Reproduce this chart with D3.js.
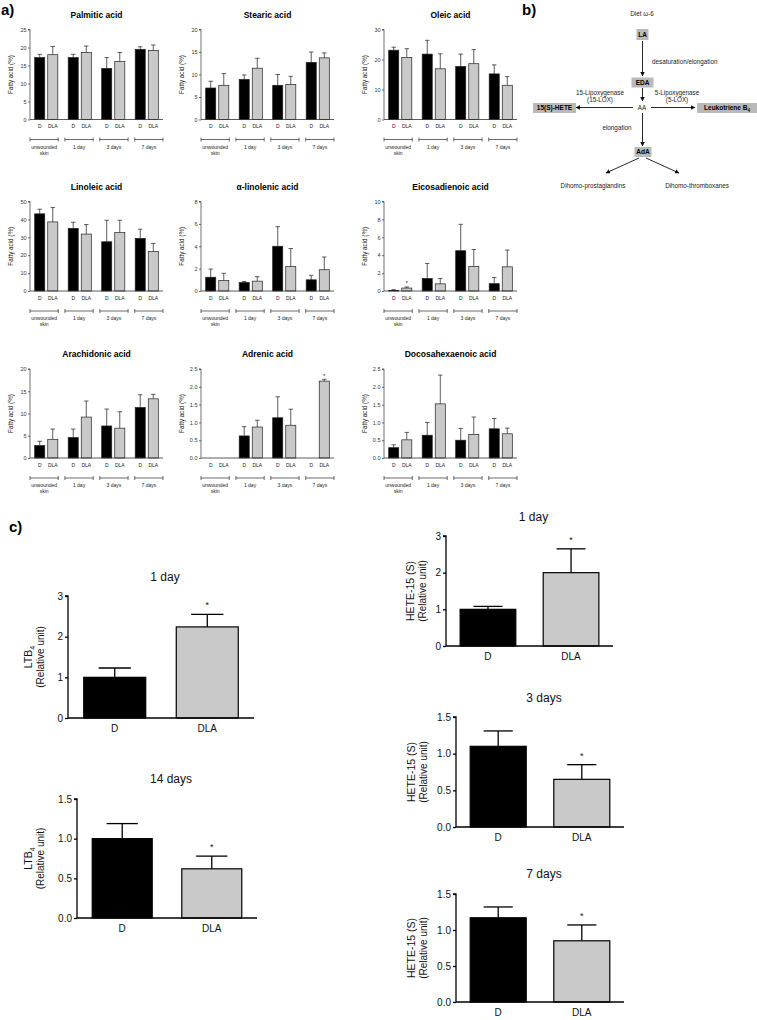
<!DOCTYPE html>
<html><head><meta charset="utf-8">
<script src="https://cdn.jsdelivr.net/npm/d3@7"></script>
<style>
body{margin:0;background:#fff}
svg{display:block}
text{font-family:"Liberation Sans",Arial,Helvetica,sans-serif}
</style>
</head><body>
<svg id="fig" width="757" height="1020"></svg>
<script>
// ---------------- DATA ----------------
const timeGroups = ["unwounded skin", "1 day", "3 days", "7 days"];
const diets = ["D", "DLA"];
const acidNames = ["Palmitic acid", "Stearic acid", "Oleic acid", "Linoleic acid", "α-linolenic acid",
  "Eicosadienoic acid", "Arachidonic acid", "Adrenic acid", "Docosahexaenoic acid"];
const acidYMax = [25, 20, 30, 50, 8, 10, 20, 2.5, 2.5];
const acidYStep = [5, 5, 10, 10, 2, 2, 5, 0.5, 0.5];

// mean values: [D per group], [DLA per group]; upper = top of error bar
const palmiticMean = [[17.2, 17.2, 14.2, 19.5], [18.0, 18.6, 16.1, 19.2]];
const palmiticUpper = [[18.1, 18.1, 17.2, 20.2], [20.3, 20.4, 18.6, 20.7]];
const stearicMean = [[7.0, 8.9, 7.6, 12.7], [7.6, 11.4, 7.8, 13.7]];
const stearicUpper = [[8.5, 9.9, 10.0, 15.0], [10.2, 13.6, 9.6, 14.8]];
const oleicMean = [[23.1, 21.8, 17.7, 15.2], [20.7, 16.9, 18.6, 11.4]];
const oleicUpper = [[24.1, 26.4, 21.8, 18.2], [23.6, 21.9, 23.3, 14.3]];
const linoleicMean = [[43.1, 35.0, 27.5, 29.4], [38.6, 31.8, 32.6, 22.1]];
const linoleicUpper = [[45.7, 38.4, 39.5, 34.5], [46.6, 37.1, 39.5, 26.6]];
const linolenicMean = [[1.23, 0.76, 4.0, 1.0], [0.93, 0.88, 2.19, 1.9]];
const linolenicUpper = [[1.96, 0.85, 5.75, 1.4], [1.58, 1.28, 3.8, 3.04]];
const eicosadienoicMean = [[0.07, 1.4, 4.5, 0.82], [0.33, 0.8, 2.73, 2.7]];
const eicosadienoicUpper = [[0.15, 3.07, 7.45, 1.5], [0.45, 1.4, 4.64, 4.57]];
const arachidonicMean = [[2.8, 4.6, 7.2, 11.35], [4.2, 9.2, 6.7, 13.3]];
const arachidonicUpper = [[3.76, 6.5, 11.0, 14.2], [6.5, 12.8, 10.4, 14.3]];
const adrenicMean = [[0, 0.62, 1.13, 0], [0, 0.87, 0.92, 2.16]];
const adrenicUpper = [[0, 0.88, 1.72, 0], [0, 1.06, 1.37, 2.21]];
const dhaMean = [[0.29, 0.64, 0.5, 0.82], [0.51, 1.52, 0.66, 0.68]];
const dhaUpper = [[0.37, 1.0, 0.83, 1.11], [0.72, 2.33, 1.15, 0.84]];
// significance stars: [acid index, diet index, group index]
const acidStars = [[5, 1, 0], [7, 1, 3]];

// panel c
const ltb4Titles = ["1 day", "14 days"];
const ltb4Mean = [[1.0, 2.24], [1.0, 0.62]];
const ltb4Upper = [[1.23, 2.55], [1.19, 0.78]];
const ltb4YMax = [3, 1.5];
const ltb4YStep = [1, 0.5];
const heteTitles = ["1 day", "3 days", "7 days"];
const heteMean = [[1.0, 2.0], [1.1, 0.65], [1.17, 0.85]];
const heteUpper = [[1.08, 2.65], [1.31, 0.85], [1.32, 1.07]];
const heteYMax = [3, 1.5, 1.5];
const heteYStep = [1, 0.5, 0.5];
const starredDiet = "DLA";

// ---------------- DRAWING ----------------
const svg = d3.select("#fig");
const BLACK = "#000", GRAY = "#c9c9c9";

const acidMeans = [palmiticMean, stearicMean, oleicMean, linoleicMean, linolenicMean,
  eicosadienoicMean, arachidonicMean, adrenicMean, dhaMean];
const acidUppers = [palmiticUpper, stearicUpper, oleicUpper, linoleicUpper, linolenicUpper,
  eicosadienoicUpper, arachidonicUpper, adrenicUpper, dhaUpper];

// panel labels
svg.append("text").attr("x", 1).attr("y", 15).attr("font-size", 15).attr("font-weight", "bold").text("a)");
svg.append("text").attr("x", 522).attr("y", 15).attr("font-size", 15).attr("font-weight", "bold").text("b)");
svg.append("text").attr("x", 9).attr("y", 532).attr("font-size", 15).attr("font-weight", "bold").text("c)");

const colX = [30, 201, 384];
const rowTop = [29.5, 201.5, 369];
const rowH = [90, 89.5, 89];
const smallW = 133;

function smallChart(i) {
  const col = i % 3, row = Math.floor(i / 3);
  const x0 = colX[col], yTop = rowTop[row], h = rowH[row];
  const yBase = yTop + h;
  const mean = acidMeans[i], upper = acidUppers[i];
  const g = svg.append("g");
  const y = d3.scaleLinear().domain([0, acidYMax[i]]).range([yBase, yTop]);
  const xg = d3.scaleBand().domain(timeGroups).range([x0, x0 + smallW]).paddingInner(0.31).paddingOuter(0.14);
  const xs = d3.scaleBand().domain(diets).range([0, xg.bandwidth()]).paddingInner(0.23);
  const xb = d3.scaleBand().domain(timeGroups).range([x0, x0 + smallW]).paddingInner(0.19);

  g.append("text").attr("x", x0 + smallW / 2).attr("y", yTop - 12).attr("text-anchor", "middle")
    .attr("font-size", 8.5).attr("font-weight", "bold").text(acidNames[i]);
  const step = acidYStep[i];
  const ticks = d3.range(0, acidYMax[i] + step / 2, step);
  const ax = g.append("g").attr("transform", `translate(${x0},0)`)
    .call(d3.axisLeft(y).tickValues(ticks).tickSize(2).tickPadding(1.5)
      .tickFormat(step < 1 ? d3.format(".1f") : d3.format("d")));
  ax.selectAll("path,line").attr("stroke", "#333").attr("stroke-width", 0.7);
  ax.selectAll("text").attr("font-size", 5.5).attr("fill", "#333").attr("font-family", "Liberation Sans, Arial");
  ax.select(".domain").attr("d", `M-2,${yTop}H0V${yBase}`);
  g.append("text").attr("transform", `translate(${x0 - 17},${yTop + h / 2}) rotate(-90)`)
    .attr("text-anchor", "middle").attr("font-size", 6.3).attr("fill", "#222").text("Fatty acid (%)");
  diets.forEach((dname, di) => {
    timeGroups.forEach((tg, gi) => {
      const v = mean[di][gi], u = upper[di][gi];
      const bx = xg(tg) + xs(dname), bw = xs.bandwidth(), cx = bx + bw / 2;
      if (u > v) {
        g.append("line").attr("x1", cx).attr("x2", cx).attr("y1", y(v)).attr("y2", y(u))
          .attr("stroke", "#333").attr("stroke-width", 0.8);
        g.append("line").attr("x1", cx - 2.2).attr("x2", cx + 2.2).attr("y1", y(u)).attr("y2", y(u))
          .attr("stroke", "#333").attr("stroke-width", 0.8);
      }
      g.append("rect").attr("x", bx).attr("y", y(v)).attr("width", bw).attr("height", Math.max(0, yBase - y(v)))
        .attr("fill", di === 0 ? BLACK : GRAY).attr("stroke", "#222").attr("stroke-width", 0.7);
      g.append("text").attr("x", cx).attr("y", yBase + 8.5).attr("text-anchor", "middle")
        .attr("font-size", 5).attr("fill", "#222").text(dname);
    });
  });
  g.append("line").attr("x1", x0).attr("x2", x0 + smallW).attr("y1", yBase).attr("y2", yBase)
    .attr("stroke", "#333").attr("stroke-width", 0.8);
  acidStars.filter(s => s[0] === i).forEach(s => {
    const bx = xg(timeGroups[s[2]]) + xs(diets[s[1]]) + xs.bandwidth() / 2;
    g.append("text").attr("x", bx).attr("y", y(upper[s[1]][s[2]]) - 1.5).attr("text-anchor", "middle")
      .attr("font-size", 6).attr("fill", "#222").text("*");
  });
  const by = yBase + 20;
  timeGroups.forEach(tg => {
    const a = xb(tg), b = xb(tg) + xb.bandwidth();
    g.append("path").attr("d", `M${a},${by - 2}V${by + 2}M${a},${by}H${b}M${b},${by - 2}V${by + 2}`)
      .attr("stroke", "#444").attr("stroke-width", 0.8).attr("fill", "none");
    const parts = tg === "unwounded skin" ? ["unwounded", "skin"] : [tg];
    parts.forEach((p, k) => {
      g.append("text").attr("x", (a + b) / 2).attr("y", by + 9 + k * 6).attr("text-anchor", "middle")
        .attr("font-size", 5).attr("fill", "#222").text(p);
    });
  });
}
for (let i = 0; i < 9; i++) smallChart(i);

// ---------------- panel b diagram ----------------
const defs = svg.append("defs");
defs.append("marker").attr("id", "arr").attr("viewBox", "0 0 10 10").attr("refX", 9).attr("refY", 5)
  .attr("markerWidth", 5).attr("markerHeight", 5).attr("orient", "auto-start-reverse")
  .append("path").attr("d", "M0,0L10,5L0,10z").attr("fill", "#111");
const db = svg.append("g");
function box(x, y, w, h, label, sub) {
  db.append("rect").attr("x", x).attr("y", y).attr("width", w).attr("height", h).attr("fill", "#b9b9b9");
  const t = db.append("text").attr("x", x + w / 2).attr("y", y + h / 2 + 2.3).attr("text-anchor", "middle")
    .attr("font-size", 6.5).attr("font-weight", "bold").text(label);
  if (sub) t.append("tspan").attr("font-size", 4.5).attr("dy", 1.5).text(sub);
}
function arrow(x1, y1, x2, y2) {
  db.append("line").attr("x1", x1).attr("y1", y1).attr("x2", x2).attr("y2", y2)
    .attr("stroke", "#111").attr("stroke-width", 0.9).attr("marker-end", "url(#arr)");
}
function label(x, y, s, anchor) {
  db.append("text").attr("x", x).attr("y", y).attr("text-anchor", anchor || "middle")
    .attr("font-size", 6.3).attr("fill", "#222").text(s);
}
label(642, 16, "Diet ω-6");
box(636.5, 29, 12, 11, "LA");
arrow(642.5, 41, 642.5, 76);
label(652, 64, "desaturation/elongation", "start");
box(631.5, 77.5, 22, 10, "EDA");
arrow(642.5, 88, 642.5, 101);
label(600, 95, "15-Lipoxygenase");
label(600, 102, "(15-LOX)");
label(677, 95, "5-Lipoxygenase");
label(677, 102, "(5-LOX)");
label(642, 110, "AA");
arrow(633, 107.5, 576, 107.5);
arrow(651, 107.5, 695, 107.5);
box(533, 103, 43, 10, "15(S)-HETE");
box(697, 103, 60, 10, "Leukotriene B", "4");
arrow(642.5, 113, 642.5, 146);
label(617, 130, "elongation");
box(634.5, 147, 17, 10, "AdA");
arrow(639, 158, 606, 173);
arrow(646, 158, 679, 173);
label(593, 188, "Dihomo-prostaglandins");
label(697, 188, "Dihomo-thromboxanes");

// ---------------- panel c ----------------
function bigChart(o) {
  const g = svg.append("g");
  const y = d3.scaleLinear().domain([0, o.max]).range([o.y0, o.y1]);
  const x = d3.scaleBand().domain(diets).range([o.x0, o.x1]).paddingInner(0.33).paddingOuter(0.17);
  g.append("text").attr("x", (o.x0 + o.x1) / 2 + 4).attr("y", o.ty).attr("text-anchor", "middle")
    .attr("font-size", 12).attr("fill", "#111").text(o.title);
  diets.forEach((d, di) => {
    const bx = x(d), bw = x.bandwidth(), cx = bx + bw / 2;
    const v = o.mean[di], u = o.upper[di];
    g.append("line").attr("x1", cx).attr("x2", cx).attr("y1", y(v)).attr("y2", y(u)).attr("stroke", "#000").attr("stroke-width", 1.3);
    g.append("line").attr("x1", cx - bw * 0.26).attr("x2", cx + bw * 0.26).attr("y1", y(u)).attr("y2", y(u)).attr("stroke", "#000").attr("stroke-width", 1.3);
    g.append("rect").attr("x", bx).attr("y", y(v)).attr("width", bw).attr("height", o.y0 - y(v))
      .attr("fill", di === 0 ? BLACK : GRAY).attr("stroke", "#000").attr("stroke-width", 1.2);
    g.append("text").attr("x", cx).attr("y", o.y0 + 14).attr("text-anchor", "middle")
      .attr("font-size", 10).attr("fill", "#111").text(d);
    if (d === starredDiet) {
      g.append("text").attr("x", cx).attr("y", y(u) - 6).attr("text-anchor", "middle")
        .attr("font-size", 9).attr("fill", "#111").text("*");
    }
  });
  const ticks = d3.range(0, o.max + o.step / 2, o.step);
  const ax = g.append("g").attr("transform", `translate(${o.x0},0)`)
    .call(d3.axisLeft(y).tickValues(ticks).tickSize(3).tickPadding(2)
      .tickFormat(o.step < 1 ? d3.format(".1f") : d3.format("d")));
  ax.select(".domain").attr("d", `M-3,${o.y1}H0V${o.y0}`);
  ax.selectAll("path,line").attr("stroke", "#000").attr("stroke-width", 1.3);
  ax.selectAll("text").attr("font-size", 10).attr("fill", "#111").attr("font-family", "Liberation Sans, Arial");
  g.append("line").attr("x1", o.x0).attr("x2", o.x1).attr("y1", o.y0).attr("y2", o.y0).attr("stroke", "#000").attr("stroke-width", 1.4);
  const yl = g.append("g").attr("transform", `translate(${o.lx},${(o.y0 + o.y1) / 2}) rotate(-90)`);
  const t1 = yl.append("text").attr("text-anchor", "middle").attr("font-size", 10.5).attr("fill", "#111").text(o.ylab);
  if (o.ysub) t1.append("tspan").attr("font-size", 7).attr("dy", 2.5).text(o.ysub);
  yl.append("text").attr("y", 12).attr("text-anchor", "middle").attr("font-size", 10).attr("fill", "#111").text("(Relative unit)");
}

const ltb4Layout = [
  {x0: 68, x1: 254, y0: 718, y1: 596, ty: 581, lx: 32},
  {x0: 77, x1: 257, y0: 918, y1: 799, ty: 783, lx: 32}
];
ltb4Titles.forEach((t, k) => bigChart(Object.assign({}, ltb4Layout[k], {
  title: t, max: ltb4YMax[k], step: ltb4YStep[k], mean: ltb4Mean[k], upper: ltb4Upper[k], ylab: "LTB", ysub: "4"
})));
const heteLayout = [
  {x0: 446, x1: 613, y0: 646, y1: 536, ty: 521, lx: 414},
  {x0: 456, x1: 624, y0: 827, y1: 717, ty: 702, lx: 415},
  {x0: 456, x1: 624, y0: 1002, y1: 894, ty: 878, lx: 415}
];
heteTitles.forEach((t, k) => bigChart(Object.assign({}, heteLayout[k], {
  title: t, max: heteYMax[k], step: heteYStep[k], mean: heteMean[k], upper: heteUpper[k], ylab: "HETE-15 (S)"
})));
</script>
</body></html>
